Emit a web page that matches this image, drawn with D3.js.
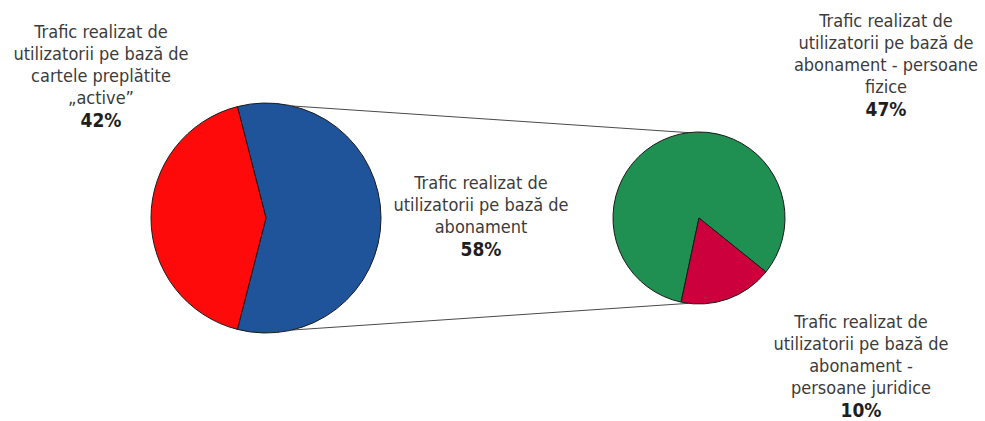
<!DOCTYPE html>
<html>
<head>
<meta charset="utf-8">
<script src="https://d3js.org/d3.v7.min.js"></script>
<style>
  body { margin: 0; background: #fff; }
  svg { display: block; font-family: Tahoma, "DejaVu Sans Condensed", "DejaVu Sans", sans-serif; }
  .lbl { fill: #3c3c3c; font-size: 18px; }
  .pct { fill: #1e1e1e; font-size: 19px; font-weight: bold; }
  .link { stroke: #4a4a4a; stroke-width: 1; fill: none; }
  .slice { stroke: #1a1a1a; stroke-width: 1; }
</style>
</head>
<body>
<svg id="chart" width="985" height="421"></svg>
<script>
// main pie: subscriptions (split out) + prepaid cards
const mainKeys = ["abonament", "cartele"];
const mainValues = [58, 42];
const mainLabels = [
  ["Trafic realizat de", "utilizatorii pe bază de", "abonament"],
  ["Trafic realizat de", "utilizatorii pe bază de", "cartele preplătite", "„active”"]
];
// secondary pie: breakdown of subscriptions
const subKeys = ["fizice", "juridice"];
const subValues = [47, 10];
const subLabels = [
  ["Trafic realizat de", "utilizatorii pe bază de", "abonament - persoane", "fizice"],
  ["Trafic realizat de", "utilizatorii pe bază de", "abonament -", "persoane juridice"]
];

const svg = d3.select("#chart");
const deg = Math.PI / 180;

const main = { cx: 266, cy: 218, r: 115 };
const sub = { cx: 699, cy: 218, r: 86 };

const colors = {
  abonament: ["#20549a", "#143a6e"],
  cartele: ["#ff0a0a", "#e60000"],
  fizice: ["#209052", "#176c3e"],
  juridice: ["#cc003c", "#840024"]
};

const defs = svg.append("defs");
function grad(id, pie, c) {
  const g = defs.append("linearGradient").attr("id", id)
    .attr("gradientUnits", "userSpaceOnUse")
    .attr("x1", pie.cx).attr("y1", pie.cy - pie.r)
    .attr("x2", pie.cx).attr("y2", pie.cy + pie.r);
  g.append("stop").attr("offset", "0%").attr("stop-color", c[0]);
  g.append("stop").attr("offset", "100%").attr("stop-color", c[1]);
}
mainKeys.forEach(k => grad("g-" + k, main, colors[k]));
subKeys.forEach(k => grad("g-" + k, sub, colors[k]));

// connector lines between the pies
const links = [[13, -7], [167, 187]];
links.forEach(([a1, a2]) => {
  svg.append("line").attr("class", "link")
    .attr("x1", main.cx + main.r * Math.sin(a1 * deg))
    .attr("y1", main.cy - main.r * Math.cos(a1 * deg))
    .attr("x2", sub.cx + sub.r * Math.sin(a2 * deg))
    .attr("y2", sub.cy - sub.r * Math.cos(a2 * deg));
});

// split slice centred on the right side
const mainTotal = d3.sum(mainValues);
const mainStart = Math.PI / 2 - Math.PI * mainValues[0] / mainTotal;
const mainPie = d3.pie().sort(null).startAngle(mainStart).endAngle(mainStart + 2 * Math.PI);
const subStart = 192 * deg;
const subPie = d3.pie().sort(null).startAngle(subStart).endAngle(subStart + 2 * Math.PI);

function drawPie(pie, values, keys, gen) {
  const arc = d3.arc().innerRadius(0).outerRadius(pie.r);
  svg.append("g").attr("transform", `translate(${pie.cx},${pie.cy})`)
    .selectAll("path").data(gen(values)).join("path")
    .attr("class", "slice")
    .attr("d", arc)
    .attr("fill", (d, i) => `url(#g-${keys[i]})`);
}
drawPie(main, mainValues, mainKeys, mainPie);
drawPie(sub, subValues, subKeys, subPie);

// labels
function label(x, y, lines, pct) {
  const t = svg.append("text").attr("text-anchor", "middle");
  lines.forEach((s, i) => {
    t.append("tspan").attr("class", "lbl").attr("x", x).attr("y", y + i * 22).text(s);
  });
  t.append("tspan").attr("class", "pct").attr("x", x).attr("y", y + lines.length * 22 + 1).text(pct + "%");
}
label(101, 38, mainLabels[1], mainValues[1]);
label(481, 189, mainLabels[0], mainValues[0]);
label(886, 27, subLabels[0], subValues[0]);
label(861, 328, subLabels[1], subValues[1]);
</script>
</body>
</html>
